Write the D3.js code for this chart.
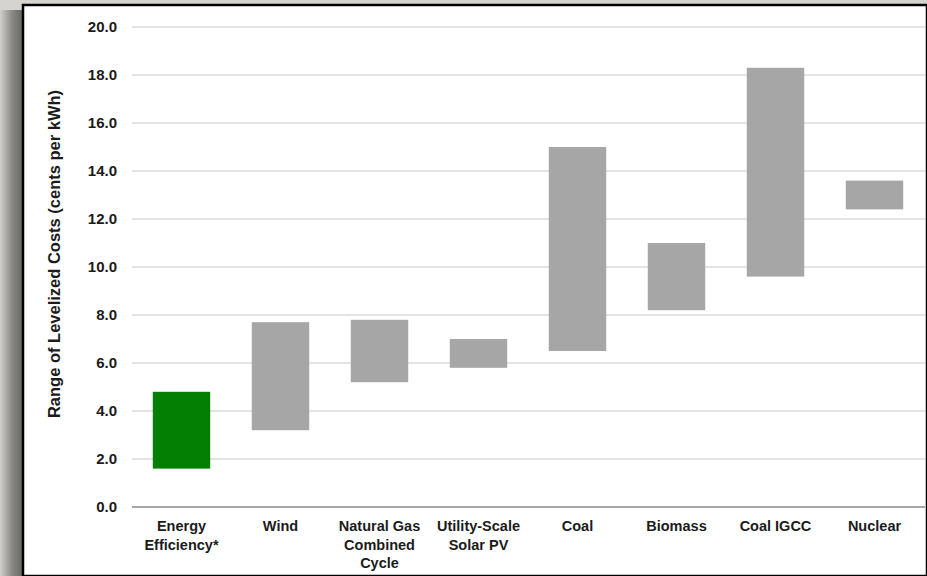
<!DOCTYPE html>
<html>
<head>
	<title></title>
	<style>
		body { margin: 0; background: #d6d4d0; }
		svg { display: block; font-family: "Liberation Sans", Arial, sans-serif; }
	</style>
</head>
<body>
	<svg id="container" width="927" height="576"></svg>
</body>
<script type="text/javascript" src="https://cdn.jsdelivr.net/npm/d3@7"></script>
<script>
	// chart data
	let categories = ["Energy Efficiency*", "Wind", "Natural Gas Combined Cycle", "Utility-Scale Solar PV", "Coal", "Biomass", "Coal IGCC", "Nuclear"]
	let labelLines = [["Energy", "Efficiency*"], ["Wind"], ["Natural Gas", "Combined", "Cycle"], ["Utility-Scale", "Solar PV"], ["Coal"], ["Biomass"], ["Coal IGCC"], ["Nuclear"]]
	let lowValues = [1.6, 3.2, 5.2, 5.8, 6.5, 8.2, 9.6, 12.4]
	let highValues = [4.8, 7.7, 7.8, 7.0, 15.0, 11.0, 18.3, 13.6]
	let yTicks = [0, 2, 4, 6, 8, 10, 12, 14, 16, 18, 20]

	let svg = d3.select("#container")

	// frame: shadow on the left, white panel with black border
	let defs = svg.append("defs")
	let grad = defs.append("linearGradient").attr("id", "shade")
	grad.append("stop").attr("offset", "0%").attr("stop-color", "#d2d0cc")
	grad.append("stop").attr("offset", "55%").attr("stop-color", "#8a8885")
	grad.append("stop").attr("offset", "100%").attr("stop-color", "#6a6865")
	svg.append("rect").attr("x", 0).attr("y", 10).attr("width", 22).attr("height", 566).attr("fill", "url(#shade)")
	svg.append("rect").attr("x", 23).attr("y", 5).attr("width", 904).attr("height", 571)
		.attr("fill", "white").attr("stroke", "black").attr("stroke-width", 2.5)

	let y = d3.scaleLinear().domain([0, 20]).range([507, 27])
	let x = d3.scaleBand().domain(categories).range([132, 924]).paddingInner(0.42).paddingOuter(0.21)

	// gridlines
	svg.selectAll("line.grid")
		.data(yTicks)
		.enter()
		.append("line")
		.attr("x1", 132).attr("x2", 925)
		.attr("y1", d => y(d)).attr("y2", d => y(d))
		.attr("stroke", d => d == 0 ? "#8a8a8a" : "#c9c9c9")
		.attr("stroke-width", d => d == 0 ? 1.5 : 1.2)

	// tick labels
	svg.selectAll("text.tick")
		.data(yTicks)
		.enter()
		.append("text")
		.attr("x", 117).attr("y", d => y(d) + 5)
		.attr("text-anchor", "end")
		.attr("font-size", 15).attr("font-weight", "bold").attr("fill", "#1b1b1b")
		.text(d => d.toFixed(1))

	// bars (range from low to high)
	svg.selectAll("rect.bar")
		.data(categories)
		.enter()
		.append("rect")
		.attr("x", d => x(d))
		.attr("width", x.bandwidth())
		.attr("y", (d, i) => y(highValues[i]))
		.attr("height", (d, i) => y(lowValues[i]) - y(highValues[i]))
		.attr("fill", (d, i) => i == 0 ? "#037f03" : "#a6a6a6")

	// category labels
	let labels = svg.selectAll("text.cat")
		.data(categories)
		.enter()
		.append("text")
		.attr("text-anchor", "middle")
		.attr("font-size", 14.5).attr("font-weight", "bold").attr("fill", "#1b1b1b")
	labels.selectAll("tspan")
		.data((d, i) => labelLines[i].map(t => ({ t: t, c: d })))
		.enter()
		.append("tspan")
		.attr("x", d => x(d.c) + x.bandwidth() / 2)
		.attr("y", (d, j) => 531 + j * 18.5)
		.text(d => d.t)

	// y axis title
	svg.append("text")
		.attr("transform", "translate(60,254) rotate(-90)")
		.attr("text-anchor", "middle")
		.attr("font-size", 16.5).attr("font-weight", "bold").attr("fill", "#1b1b1b")
		.text("Range of Levelized Costs (cents per kWh)")
</script>
</html>
